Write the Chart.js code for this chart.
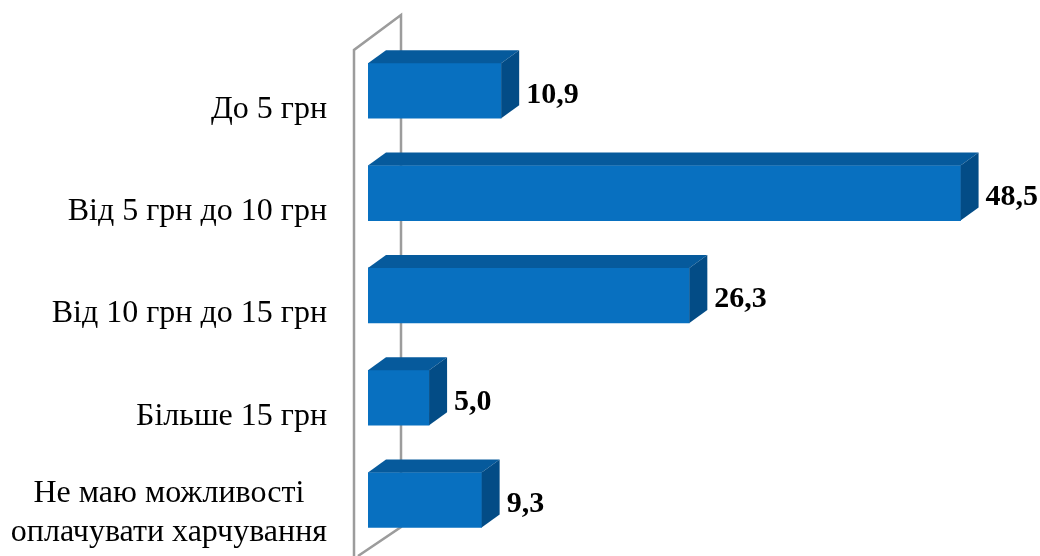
<!DOCTYPE html>
<html>
<head>
<meta charset="utf-8">
<script src="https://cdn.jsdelivr.net/npm/chart.js@4"></script>
<style>
  html, body { margin: 0; padding: 0; background: #ffffff; }
  #wrap { width: 1040px; height: 556px; position: relative; }
</style>
</head>
<body>
<div id="wrap"><canvas id="c" width="1040" height="556"></canvas></div>
<script>
const categories = [
  'До 5 грн',
  'Від 5 грн до 10 грн',
  'Від 10 грн до 15 грн',
  'Більше 15 грн',
  ['Не маю можливості', 'оплачувати харчування']
];
const values = [10.9, 48.5, 26.3, 5.0, 9.3];

const FRONT = '#0870C0';
const TOP = '#065A9C';
const SIDE = '#034C86';
const DX = 18, DY = -13;

const wallPlugin = {
  id: 'wall',
  beforeDatasetsDraw(chart) {
    const ctx = chart.ctx;
    const ca = chart.chartArea;
    const x0 = ca.left - 14;
    ctx.save();
    ctx.strokeStyle = '#9C9C9C';
    ctx.lineWidth = 2.5;
    ctx.beginPath();
    ctx.moveTo(x0, 556);
    ctx.lineTo(x0, 50);
    ctx.lineTo(x0 + 47, 15);
    ctx.lineTo(x0 + 47, 527);
    ctx.lineTo(x0 + 4, 556);
    ctx.stroke();
    ctx.restore();
  }
};

const bar3dPlugin = {
  id: 'bar3d',
  afterDatasetsDraw(chart) {
    const ctx = chart.ctx;
    const meta = chart.getDatasetMeta(0);
    ctx.save();
    meta.data.forEach((bar, i) => {
      const p = bar.getProps(['x', 'y', 'base', 'height'], true);
      const l = p.base, r = p.x, t = p.y - p.height / 2, b = p.y + p.height / 2;
      // top face
      ctx.fillStyle = TOP;
      ctx.beginPath();
      ctx.moveTo(l, t);
      ctx.lineTo(l + DX, t + DY);
      ctx.lineTo(r + DX, t + DY);
      ctx.lineTo(r, t);
      ctx.closePath();
      ctx.fill();
      // side face
      ctx.fillStyle = SIDE;
      ctx.beginPath();
      ctx.moveTo(r, t);
      ctx.lineTo(r + DX, t + DY);
      ctx.lineTo(r + DX, b + DY);
      ctx.lineTo(r, b);
      ctx.closePath();
      ctx.fill();
      // value label
      ctx.fillStyle = '#000000';
      ctx.font = 'bold 30px "Liberation Serif", "Times New Roman", serif';
      ctx.textAlign = 'left';
      ctx.textBaseline = 'alphabetic';
      const txt = values[i].toFixed(1).replace('.', ',');
      ctx.fillText(txt, r + DX + 7, p.y + 12);
    });
    ctx.restore();
  },
  afterDraw(chart) {
    const ctx = chart.ctx;
    const ys = chart.scales.y;
    const rightX = 327;
    ctx.save();
    ctx.fillStyle = '#000000';
    ctx.font = '32px "Liberation Serif", "Times New Roman", serif';
    ctx.textBaseline = 'alphabetic';
    categories.forEach((lab, i) => {
      const y = ys.getPixelForValue(i);
      if (Array.isArray(lab)) {
        const maxW = Math.max(...lab.map(s => ctx.measureText(s).width));
        const cx = rightX - maxW / 2;
        ctx.textAlign = 'center';
        lab.forEach((s, k) => ctx.fillText(s, cx, y + 2 + k * 39));
      } else {
        ctx.textAlign = 'right';
        ctx.fillText(lab, rightX, y + 27);
      }
    });
    ctx.restore();
  }
};

new Chart(document.getElementById('c'), {
  type: 'bar',
  data: {
    labels: categories,
    datasets: [{
      data: values,
      backgroundColor: FRONT,
      borderWidth: 0,
      barThickness: 55
    }]
  },
  options: {
    indexAxis: 'y',
    responsive: false,
    animation: false,
    layout: { padding: { left: 368, right: 0, top: 39.6, bottom: 4.8 } },
    plugins: { legend: { display: false }, tooltip: { enabled: false } },
    scales: {
      x: { display: false, min: 0, max: 55 },
      y: { display: false, grid: { display: false } }
    }
  },
  plugins: [wallPlugin, bar3dPlugin]
});
</script>
</body>
</html>
